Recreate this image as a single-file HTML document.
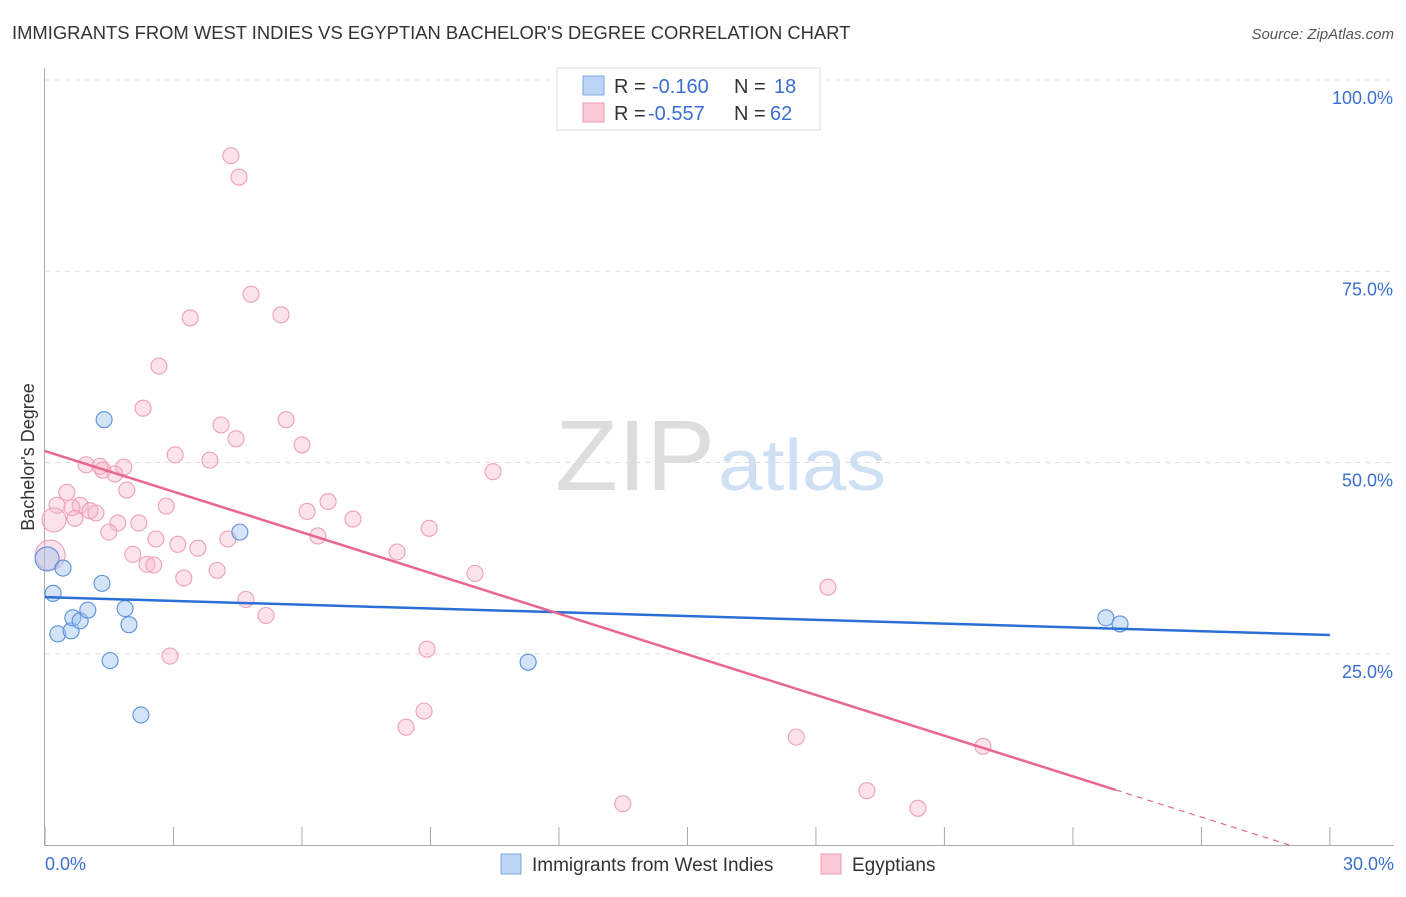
<!DOCTYPE html>
<html><head><meta charset="utf-8"><style>
body{margin:0;background:#fff;font-family:"Liberation Sans",sans-serif;}
svg text{font-family:"Liberation Sans",sans-serif;}
</style></head><body>
<svg id="chart" width="1406" height="892" viewBox="0 0 1406 892" xmlns="http://www.w3.org/2000/svg">
<text x="12" y="39" font-size="18.4" fill="#333">IMMIGRANTS FROM WEST INDIES VS EGYPTIAN BACHELOR'S DEGREE CORRELATION CHART</text>
<text x="1394" y="39" font-size="15" fill="#555" text-anchor="end" font-style="italic">Source: ZipAtlas.com</text>
<text x="555" y="490" font-size="100" fill="#ddd" font-family="Liberation Serif" textLength="160" lengthAdjust="spacingAndGlyphs">ZIP</text>
<text x="718" y="490" font-size="72" fill="#cfe0f5" textLength="168" lengthAdjust="spacingAndGlyphs">atlas</text>
<text transform="translate(34,457) rotate(-90)" font-size="18" fill="#333" text-anchor="middle">Bachelor's Degree</text>
<g id="grid"></g><g id="marks"></g>
<g>
<rect x="557" y="68" width="263" height="62" fill="#fff" stroke="#ddd"/>
<rect x="583" y="76" width="21" height="19" fill="#bcd4f5" stroke="#7fa8e0"/>
<rect x="583" y="103" width="21" height="19" fill="#fcc9d7" stroke="#ee9ab2"/>
<text x="614" y="93" font-size="20" fill="#333">R = </text><text x="652" y="93" font-size="20" fill="#3a6fd0">-0.160</text>
<text x="734" y="93" font-size="20" fill="#333">N = </text><text x="774" y="93" font-size="20" fill="#3a6fd0">18</text>
<text x="614" y="120" font-size="20" fill="#333">R = </text><text x="648" y="120" font-size="20" fill="#3a6fd0">-0.557</text>
<text x="734" y="120" font-size="20" fill="#333">N = </text><text x="770" y="120" font-size="20" fill="#3a6fd0">62</text>
</g>
<g>
<rect x="501" y="854" width="20" height="20" fill="#bcd4f5" stroke="#7fa8e0"/>
<text x="532" y="871" font-size="19" fill="#333">Immigrants from West Indies</text>
<rect x="821" y="854" width="20" height="20" fill="#fcc9d7" stroke="#ee9ab2"/>
<text x="852" y="871" font-size="19" fill="#333">Egyptians</text>
</g>
</svg>
<script>
const xTicks=[0,3,6,9,12,15,18,21,24,27,30];
const yTicks=[25,50,75,100];
const blueX=[0.05,0.19,0.42,0.30,0.61,0.65,0.82,1.0,1.33,1.38,1.52,1.87,1.96,2.24,4.55,11.28,24.77,25.10];
const blueY=[37.4,32.9,36.2,27.6,28.0,29.7,29.3,30.7,34.2,55.6,24.1,30.9,28.8,17.0,40.9,23.9,29.7,28.9];
const blueR=[12,8,8,8,8,8,8,8,8,8,8,8,8,8,8,8,8,8];
const pinkX=[4.34,4.53,4.81,3.39,5.51,2.66,2.29,4.11,5.63,4.46,6.0,3.04,3.85,0.96,1.28,1.35,1.63,1.84,10.46,0.51,1.91,0.28,0.82,0.63,1.05,1.19,0.70,2.83,6.61,6.12,1.70,2.19,7.19,8.97,1.49,6.37,2.59,3.10,3.57,4.27,2.05,2.38,2.54,8.22,4.02,10.04,3.24,18.28,4.69,5.16,8.92,2.92,8.85,8.43,17.54,21.9,19.19,13.49,20.38,0.21,0.12];
const pinkY=[90.1,87.3,72.0,68.9,69.3,62.6,57.1,54.9,55.6,53.1,52.3,51.0,50.3,49.7,49.5,49.0,48.5,49.4,48.8,46.1,46.4,44.4,44.4,44.1,43.7,43.4,42.7,44.3,44.9,43.6,42.1,42.1,42.6,41.4,40.9,40.4,40.0,39.3,38.8,40.0,38.0,36.7,36.6,38.3,35.9,35.5,34.9,33.7,32.1,30.0,25.6,24.7,17.5,15.4,14.1,12.9,7.1,5.4,4.8,42.5,37.9];
const pinkR=[8,8,8,8,8,8,8,8,8,8,8,8,8,8,8,8,8,8,8,8,8,8,8,8,8,8,8,8,8,8,8,8,8,8,8,8,8,8,8,8,8,8,8,8,8,8,8,8,8,8,8,8,8,8,8,8,8,8,8,12,15];
const blueLine=[[0,32.4],[30,27.45]];
const pinkLine=[[0,51.5],[25,7.2]];
const pinkDash=[[25,7.2],[29.05,0]];
const X=v=>45+v*42.83, Y=v=>845-v*7.65;
const NS="http://www.w3.org/2000/svg";
function mk(t,a,p){const e=document.createElementNS(NS,t);for(const k in a)e.setAttribute(k,a[k]);p.appendChild(e);return e;}
const grid=document.getElementById('grid'),marks=document.getElementById('marks');
yTicks.forEach(t=>{const l=mk('line',{x1:45,x2:1394,y1:Y(t),y2:Y(t),stroke:'#ddd','stroke-dasharray':'5,5'},grid);


const tx=mk('text',{x:1393,y:Y(t)+24,'font-size':18,fill:'#3a6fd0','text-anchor':'end'},grid);tx.textContent=t.toFixed(1)+'%';

});
const ax=mk('line',{x1:44.5,x2:44.5,y1:68,y2:846,stroke:'#aaa'},grid);


const bx=mk('line',{x1:45,x2:1394,y1:845.5,y2:845.5,stroke:'#aaa'},grid);


xTicks.forEach(t=>{const l=mk('line',{x1:X(t),x2:X(t),y1:827,y2:846,stroke:'#aaa'},grid);

});
[[0,'0.0%','start',45],[30,'30.0%','end',1394]].forEach(d=>{const tx=mk('text',{x:d[3],y:870,'font-size':18,fill:'#3a6fd0','text-anchor':d[2]},grid);tx.textContent=d[1];

});
pinkX.forEach((v,i)=>{const c=mk('circle',{cx:X(v),cy:Y(pinkY[i]),r:pinkR[i],fill:'rgba(248,180,200,0.38)',stroke:'#eea0b8','stroke-width':1.1},marks);

});
blueX.forEach((v,i)=>{const c=mk('circle',{cx:X(v),cy:Y(blueY[i]),r:blueR[i],fill:'rgba(160,195,240,0.45)',stroke:'#5a90dc','stroke-width':1.1},marks);

});
const bl=mk('line',{x1:X(blueLine[0][0]),y1:Y(blueLine[0][1]),x2:X(blueLine[1][0]),y2:Y(blueLine[1][1]),stroke:'#2a6fd6','stroke-width':2.5},marks);


const pl=mk('line',{x1:X(pinkLine[0][0]),y1:Y(pinkLine[0][1]),x2:X(pinkLine[1][0]),y2:Y(pinkLine[1][1]),stroke:'#e86690','stroke-width':2.5},marks);


const pd=mk('line',{x1:X(pinkDash[0][0]),y1:Y(pinkDash[0][1]),x2:X(pinkDash[1][0]),y2:Y(pinkDash[1][1]),stroke:'#e86690','stroke-width':1.2,'stroke-dasharray':'6,5'},marks);


</script>
</body></html>
